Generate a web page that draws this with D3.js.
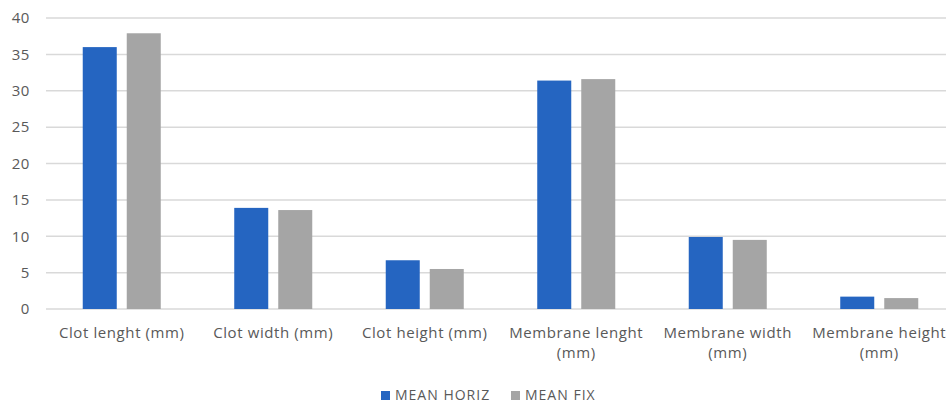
<!DOCTYPE html>
<html>
  <head>
    <meta charset="utf-8">
    <title>Clot and membrane</title>
    <script src="https://cdn.jsdelivr.net/npm/d3@7"></script>
    <style>
      body { margin: 0; background: #fff; }
      svg { display: block; font-family: "Open Sans", sans-serif; }
      .grid line { stroke: #d9d9d9; stroke-width: 1.5; }
      .label { fill: #595959; font-size: 15px; letter-spacing: 0.6px; }
    </style>
  </head>
  <body>
    <svg id="chart" width="946" height="405"></svg>

    <script>
      // data
      categories = [
        ["Clot lenght (mm)"],
        ["Clot width (mm)"],
        ["Clot height (mm)"],
        ["Membrane lenght", "(mm)"],
        ["Membrane width", "(mm)"],
        ["Membrane height", "(mm)"]
      ];
      series = ["MEAN HORIZ", "MEAN FIX"];
      horiz = [36.0, 13.9, 6.7, 31.4, 9.9, 1.7];
      fix = [37.9, 13.6, 5.5, 31.6, 9.5, 1.5];
      ticks = [0, 5, 10, 15, 20, 25, 30, 35, 40];
      colors = ["#2565c1", "#a5a5a5"];

      svg = d3.select("#chart");
      left = 46;
      right = 955;
      top_ = 18;
      bottom = 309;

      x = d3.scaleBand()
        .domain(d3.range(categories.length))
        .range([left, right]);
      xInner = d3.scaleBand()
        .domain([0, 1])
        .range([0, x.bandwidth()])
        .paddingInner(0.227)
        .paddingOuter(0.835);
      y = d3.scaleLinear()
        .domain([0, 40])
        .range([bottom, top_]);

      // gridlines
      svg.append("g")
          .attr("class", "grid")
        .selectAll("line")
          .data(ticks)
        .enter().append("line")
          .attr("x1", left)
          .attr("x2", 946)
          .attr("y1", function(d) { return y(d); })
          .attr("y2", function(d) { return y(d); });

      // y labels
      svg.append("g")
        .selectAll("text")
          .data(ticks)
        .enter().append("text")
          .attr("class", "label")
          .attr("x", 30)
          .attr("y", function(d) { return y(d); })
          .attr("dy", "0.35em")
          .attr("text-anchor", "end")
          .text(function(d) { return d; });

      // bars
      values = [horiz, fix];
      groups = svg.selectAll(".series")
          .data(values)
        .enter().append("g")
          .attr("fill", function(d, i) { return colors[i]; });
      groups.each(function(vals, s) {
        d3.select(this).selectAll("rect")
            .data(vals)
          .enter().append("rect")
            .attr("x", function(d, i) { return x(i) + xInner(s); })
            .attr("width", xInner.bandwidth())
            .attr("y", function(d) { return y(d); })
            .attr("height", function(d) { return y(0) - y(d); });
      });

      // x labels
      xl = svg.selectAll(".xlabel")
          .data(categories)
        .enter().append("text")
          .attr("class", "label")
          .attr("text-anchor", "middle")
          .attr("y", 338);
      xl.selectAll("tspan")
          .data(function(d, i) { return d.map(function(t) { return [t, i]; }); })
        .enter().append("tspan")
          .attr("x", function(d) { return x(d[1]) + x.bandwidth() / 2; })
          .attr("dy", function(d, j) { return j ? 20 : 0; })
          .text(function(d) { return d[0]; });

      // legend
      legendX = [381, 511];
      legend = svg.selectAll(".legend")
          .data(series)
        .enter().append("g")
          .attr("transform", function(d, i) { return "translate(" + legendX[i] + ",395)"; });
      legend.append("rect")
        .attr("y", -4)
        .attr("width", 9)
        .attr("height", 9)
        .attr("fill", function(d, i) { return colors[i]; });
      legend.append("text")
        .attr("class", "label")
        .attr("x", 14)
        .attr("dy", "0.38em")
        .style("font-size", "14px")
        .style("letter-spacing", "1px")
        .text(function(d) { return d; });
    </script>
  </body>
</html>
